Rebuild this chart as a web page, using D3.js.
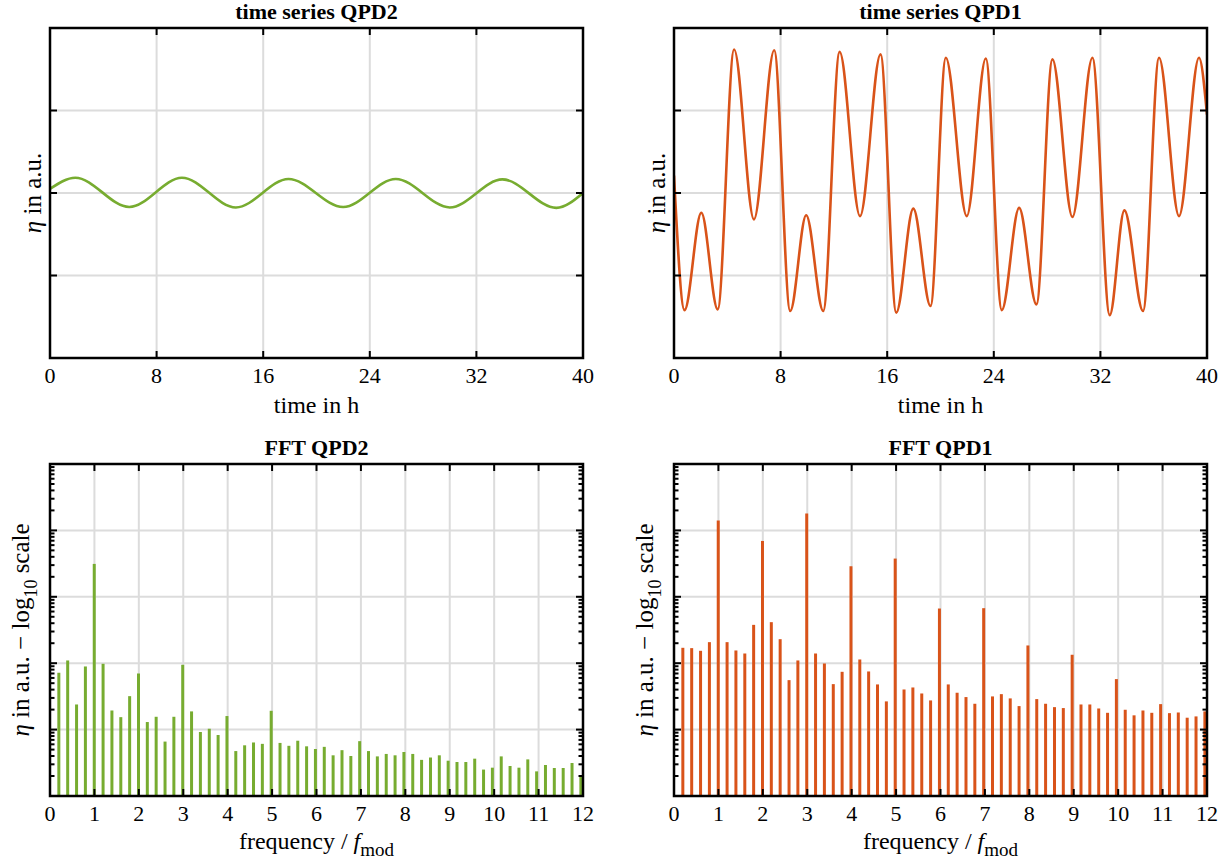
<!DOCTYPE html>
<html>
<head>
<meta charset="utf-8">
<script src="https://cdn.jsdelivr.net/npm/d3@7"></script>
<style>
    body { margin: 0; background: #fff; }
    text { font-family: "Liberation Serif", "Times New Roman", serif; fill: #000; }
</style>
</head>
<body>
<svg id="chart" width="1227" height="866"></svg>
<script>
"use strict";

const GREEN = "#77AC30";
const ORANGE = "#D95319";
const GRID = "#dcdcdc";

// time series QPD2, read at start, extrema and end (t in h, eta in a.u.)
const qpd2Time  = [0, 1.9, 5.95, 9.9, 13.95, 17.9, 22.0, 25.95, 30.0, 33.95, 38.0, 40];
const qpd2Value = [0.05, 0.185, -0.17, 0.185, -0.175, 0.17, -0.17, 0.17, -0.175, 0.165, -0.18, 0.0];

// time series QPD1, read at start, extrema and end
const qpd1Time  = [0, 0.79, 2.05, 3.28, 4.51, 6.0, 7.52, 8.72, 9.92, 11.2, 12.43, 13.96, 15.5, 16.68,
                   17.96, 19.25, 20.4, 21.97, 23.4, 24.6, 25.9, 27.2, 28.4, 29.9, 31.4, 32.7, 33.8,
                   35.2, 36.4, 37.9, 39.4, 40];
const qpd1Value = [0.21, -1.42, -0.24, -1.41, 1.74, -0.32, 1.73, -1.43, -0.27, -1.43, 1.71, -0.28, 1.68, -1.45,
                   -0.19, -1.37, 1.64, -0.28, 1.63, -1.42, -0.18, -1.35, 1.62, -0.29, 1.64, -1.48, -0.21,
                   -1.43, 1.64, -0.28, 1.64, 0.95];

// FFT bins (frequency / f_mod)
const fftFreq = [0.199, 0.398, 0.598, 0.797, 0.996, 1.195, 1.394, 1.594, 1.793, 1.992,
                 2.191, 2.390, 2.590, 2.789, 2.988, 3.187, 3.386, 3.586, 3.785, 3.984,
                 4.183, 4.382, 4.582, 4.781, 4.980, 5.179, 5.378, 5.578, 5.777, 5.976,
                 6.175, 6.374, 6.574, 6.773, 6.972, 7.171, 7.370, 7.570, 7.769, 7.968,
                 8.167, 8.366, 8.566, 8.765, 8.964, 9.163, 9.362, 9.562, 9.761, 9.960,
                 10.159, 10.358, 10.558, 10.757, 10.956, 11.155, 11.354, 11.554, 11.753, 11.952];

const fftQpd2 = [71.8, 110, 23.9, 89.3, 3130, 98, 19.4, 15.4, 31.9, 70,
                 13, 15.6, 6.6, 15.6, 94.6, 18.8, 9.2, 10.3, 8.3, 16,
                 4.75, 5.8, 6.4, 6.1, 19.2, 6.3, 5.7, 6.8, 5.6, 5.1,
                 5.5, 4.1, 4.9, 4.0, 6.7, 4.75, 3.95, 4.3, 4.1, 4.6,
                 4.3, 3.5, 3.8, 4.1, 3.4, 3.25, 3.25, 3.65, 2.5, 2.67,
                 3.95, 2.83, 2.67, 3.56, 2.35, 2.93, 2.64, 2.64, 3.14, 1.98];

const fftQpd1 = [170.6, 168.6, 153.7, 207.5, 14040, 207.5, 155.5, 140, 378, 6940,
                 415, 230, 55.6, 110, 17900, 140, 99, 48.4, 74.2, 2885,
                 113.8, 75.1, 47.9, 26.6, 3765, 40.2, 43.1, 35, 27.5, 666,
                 47.9, 35.9, 30.9, 24.5, 674, 31.6, 34.2, 29.5, 22.6, 185,
                 28.8, 24.5, 21.8, 21.1, 134, 23.9, 23.9, 20.8, 17.9, 57.6,
                 19.9, 16.4, 19.4, 17.9, 24.2, 17.7, 18.1, 15.1, 15.8, 18.8];

const timeTicks = [0, 8, 16, 24, 32, 40];
const etaTicks = [-1, 0, 1];
const freqTicks = [0, 1, 2, 3, 4, 5, 6, 7, 8, 9, 10, 11, 12];
const logMajor = [1e1, 1e2, 1e3, 1e4];

const svg = d3.select("#chart");

/**
 * 画一个坐标框：网格、内向刻度、刻度标签、标题、坐标轴标签
 */
function drawPanel(id, box, x, y, opt) {
    const g = svg.append("g").attr("class", "panel-" + id);
    const x0 = box.x, x1 = box.x + box.w, y0 = box.y, y1 = box.y + box.h;

    g.append("clipPath").attr("id", "clip-" + id)
        .append("rect").attr("x", x0).attr("y", y0).attr("width", box.w).attr("height", box.h);

    // grid
    g.selectAll(".vgrid").data(opt.xTicks.filter(d => x(d) > x0 + 1 && x(d) < x1 - 1))
        .enter().append("line")
        .attr("x1", d => x(d)).attr("x2", d => x(d)).attr("y1", y0).attr("y2", y1)
        .style("stroke", GRID).style("stroke-width", 2);
    g.selectAll(".hgrid").data(opt.yTicks)
        .enter().append("line")
        .attr("x1", x0).attr("x2", x1).attr("y1", d => y(d)).attr("y2", d => y(d))
        .style("stroke", GRID).style("stroke-width", 2);

    // data layer
    const plot = g.append("g").attr("clip-path", "url(#clip-" + id + ")");
    opt.draw(plot);

    // ticks (inward, all four sides)
    const tick = g.append("g").style("stroke", "#000").style("stroke-width", 2);
    opt.xTicks.forEach(d => {
        tick.append("line").attr("x1", x(d)).attr("x2", x(d)).attr("y1", y1).attr("y2", y1 - 7);
        tick.append("line").attr("x1", x(d)).attr("x2", x(d)).attr("y1", y0).attr("y2", y0 + 7);
    });
    opt.yTicks.forEach(d => {
        tick.append("line").attr("x1", x0).attr("x2", x0 + 7).attr("y1", y(d)).attr("y2", y(d));
        tick.append("line").attr("x1", x1).attr("x2", x1 - 7).attr("y1", y(d)).attr("y2", y(d));
    });
    (opt.yMinor || []).forEach(d => {
        tick.append("line").attr("x1", x0).attr("x2", x0 + 4.5).attr("y1", y(d)).attr("y2", y(d));
        tick.append("line").attr("x1", x1).attr("x2", x1 - 4.5).attr("y1", y(d)).attr("y2", y(d));
    });

    // frame
    g.append("rect").attr("x", x0).attr("y", y0).attr("width", box.w).attr("height", box.h)
        .style("fill", "none").style("stroke", "#000").style("stroke-width", 2.5);

    // tick labels
    g.selectAll(".xlab").data(opt.xTicks).enter().append("text")
        .attr("x", d => x(d)).attr("y", y1 + 25)
        .attr("text-anchor", "middle").style("font-size", "22px")
        .text(d => d);

    // title
    g.append("text").attr("x", (x0 + x1) / 2).attr("y", y0 - 9)
        .attr("text-anchor", "middle").style("font-size", "22px").style("font-weight", "bold")
        .text(opt.title);

    // x label
    const xl = g.append("text").attr("x", (x0 + x1) / 2).attr("y", y1 + opt.xLabelGap)
        .attr("text-anchor", "middle").style("font-size", "24px");
    opt.xLabel(xl);

    // y label
    const yl = g.append("text")
        .attr("transform", "translate(" + (x0 - opt.yLabelGap) + "," + ((y0 + y1) / 2) + ") rotate(-90)")
        .attr("text-anchor", "middle").style("font-size", "25px");
    opt.yLabel(yl);
}

function etaLabel(t) {
    t.append("tspan").style("font-style", "italic").text("\u03b7");
    t.append("tspan").text(" in a.u.");
}

function etaLogLabel(t) {
    t.append("tspan").style("font-style", "italic").text("\u03b7");
    t.append("tspan").text(" in a.u. \u2212 log");
    t.append("tspan").attr("dy", 8).style("font-size", "18px").text("10");
    t.append("tspan").attr("dy", -8).text(" scale");
}

function timeLabel(t) {
    t.text("time in h");
}

function freqLabel(t) {
    t.append("tspan").text("frequency / ");
    t.append("tspan").style("font-style", "italic").text("f");
    t.append("tspan").attr("dy", 7).style("font-size", "19px").text("mod");
}

function timeSeries(id, box, times, values, color, title) {
    const x = d3.scaleLinear().domain([0, 40]).range([box.x, box.x + box.w]);
    const y = d3.scaleLinear().domain([-2, 2]).range([box.y + box.h, box.y]);
    const pts = times.map((t, i) => [t, values[i]]);
    const line = d3.line().x(d => x(d[0])).y(d => y(d[1])).curve(d3.curveMonotoneX);
    drawPanel(id, box, x, y, {
        xTicks: timeTicks,
        yTicks: etaTicks,
        title: title,
        xLabelGap: 55,
        yLabelGap: 9,
        xLabel: timeLabel,
        yLabel: etaLabel,
        draw: g => g.append("path").datum(pts).attr("d", line)
            .style("fill", "none").style("stroke", color).style("stroke-width", 2.6)
    });
}

function fftPanel(id, box, values, color, title) {
    const x = d3.scaleLinear().domain([0, 12]).range([box.x, box.x + box.w]);
    const y = d3.scaleLog().domain([1, 1e5]).range([box.y + box.h, box.y]);
    const minor = y.ticks().filter(d => logMajor.indexOf(d) < 0 && d > 1 && d < 1e5);
    drawPanel(id, box, x, y, {
        xTicks: freqTicks,
        yTicks: logMajor,
        yMinor: minor,
        title: title,
        xLabelGap: 53,
        yLabelGap: 21,
        xLabel: freqLabel,
        yLabel: etaLogLabel,
        draw: g => g.selectAll(".bar").data(fftFreq).enter().append("line")
            .attr("class", "bar")
            .attr("x1", d => x(d)).attr("x2", d => x(d))
            .attr("y1", y(1)).attr("y2", (d, i) => y(values[i]))
            .style("stroke", color).style("stroke-width", 3)
    });
}

timeSeries("tl", {x: 50, y: 28, w: 533, h: 330}, qpd2Time, qpd2Value, GREEN, "time series QPD2");
timeSeries("tr", {x: 674, y: 28, w: 533, h: 330}, qpd1Time, qpd1Value, ORANGE, "time series QPD1");
fftPanel("bl", {x: 50, y: 464, w: 533, h: 332}, fftQpd2, GREEN, "FFT QPD2");
fftPanel("br", {x: 674, y: 464, w: 533, h: 332}, fftQpd1, ORANGE, "FFT QPD1");
</script>
</body>
</html>
